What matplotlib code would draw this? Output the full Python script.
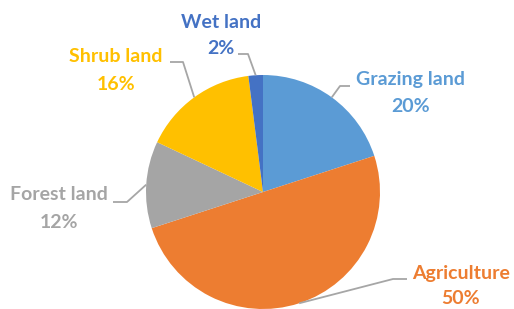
"""
Land use share - pie chart with leader-line labels
"""
import numpy as np
import matplotlib.pyplot as plt

labels = ["Grazing land", "Agriculture", "Forest land", "Shrub land", "Wet land"]
shares = [20, 50, 12, 16, 2]
colors = ["#5B9BD5", "#ED7D31", "#A5A5A5", "#FFC000", "#4472C4"]

W, H = 514, 309
cx, cy, r = 263, 192, 117

# label layout in pixel coords (x centre, y of name line) and leader elbows
label_pos = [(411, 80), (461, 273), (59, 195), (116, 57), (221, 22)]
pct_gap = [27, 25, 27, 27, 27]
elbows = [[(350, 86), (340, 86)],
          [(407, 279), (393, 279)],
          [(113, 202), (127, 202)],
          [(170, 62), (183, 62)],
          [(238, 54), (248, 54)]]

fig = plt.figure(figsize=(W / 100, H / 100), dpi=100)
ax = fig.add_axes([0, 0, 1, 1])

wedges, _ = ax.pie(shares, colors=colors, startangle=90, counterclock=False,
                   center=(cx, H - cy), radius=r, wedgeprops=dict(linewidth=0))
ax.set_xlim(0, W)
ax.set_ylim(0, H)
ax.set_aspect("equal")
ax.axis("off")

for w, lab, val, col, (tx, ty), gap, elb in zip(wedges, labels, shares, colors,
                                                 label_pos, pct_gap, elbows):
    mid = np.deg2rad((w.theta1 + w.theta2) / 2)
    ex = cx + r * np.cos(mid)
    ey = (H - cy) + r * np.sin(mid)
    xs = [p[0] for p in elb] + [ex]
    ys = [H - p[1] for p in elb] + [ey]
    ax.plot(xs, ys, color="#A6A6A6", linewidth=1.3, solid_capstyle="butt")
    ax.text(tx, H - ty, lab, color=col, fontsize=14, fontweight="bold",
            family="Lato", ha="center", va="center")
    ax.text(tx, H - ty - gap, f"{val}%", color=col, fontsize=14,
            fontweight="bold", family="Lato", ha="center", va="center")

plt.savefig("out.png", dpi=100)
